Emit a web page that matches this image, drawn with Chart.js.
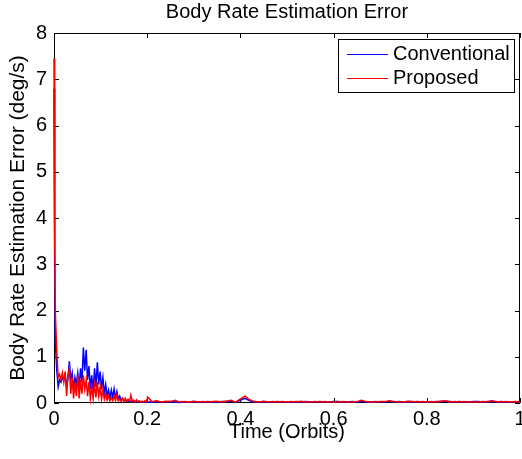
<!DOCTYPE html>
<html>
<head>
<meta charset="utf-8">
<script src="https://cdn.jsdelivr.net/npm/chart.js@4/dist/chart.umd.min.js"></script>
<style>
  html, body { margin: 0; padding: 0; background: #fff; }
  canvas { display: block; }
</style>
</head>
<body>
<canvas id="rateChart" width="522" height="459"></canvas>
<script>
// time axis in orbits, dense at the start where the transient is
const time = [
  0, 0.0015, 0.003, 0.006, 0.009, 0.012, 0.015, 0.018, 0.021, 0.024,
  0.027, 0.030, 0.033, 0.036, 0.039, 0.042, 0.045, 0.048, 0.051, 0.054,
  0.057, 0.060, 0.063, 0.066, 0.069, 0.072, 0.075, 0.078, 0.081, 0.084,
  0.087, 0.090, 0.093, 0.096, 0.099, 0.102, 0.105, 0.108, 0.111, 0.114,
  0.117, 0.120, 0.123, 0.126, 0.129, 0.132, 0.135, 0.138, 0.141, 0.144,
  0.147, 0.150, 0.153, 0.156, 0.159, 0.162, 0.165, 0.168, 0.171, 0.174,
  0.177, 0.180, 0.183, 0.186, 0.189, 0.192, 0.195, 0.198, 0.201,
  0.21, 0.22, 0.23, 0.24, 0.25, 0.26, 0.27, 0.28, 0.29, 0.30,
  0.31, 0.32, 0.33, 0.34, 0.35, 0.36, 0.37, 0.38, 0.39, 0.40,
  0.41, 0.42, 0.43, 0.44, 0.45, 0.46, 0.47, 0.48, 0.49, 0.50,
  0.51, 0.52, 0.53, 0.54, 0.55, 0.56, 0.57, 0.58, 0.59, 0.60,
  0.61, 0.62, 0.63, 0.64, 0.65, 0.66, 0.67, 0.68, 0.69, 0.70,
  0.71, 0.72, 0.73, 0.74, 0.75, 0.76, 0.77, 0.78, 0.79, 0.80,
  0.81, 0.82, 0.83, 0.84, 0.85, 0.86, 0.87, 0.88, 0.89, 0.90,
  0.91, 0.92, 0.93, 0.94, 0.95, 0.96, 0.97, 0.98, 0.99, 1.00
];

// deg/s
const conventional = [
  6.8, 2.9, 1.3, 0.7, 0.35, 0.5, 0.45, 0.55, 0.5, 0.6,
  0.35, 0.55, 0.9, 0.5, 0.65, 0.3, 0.55, 0.4, 0.65, 0.35,
  0.75, 0.45, 1.2, 0.7, 1.15, 0.5, 0.8, 0.3, 0.6, 0.25,
  0.75, 0.35, 0.88, 0.4, 0.68, 0.3, 0.55, 0.2, 0.4, 0.15,
  0.28, 0.1, 0.28, 0.12, 0.3, 0.1, 0.25, 0.08, 0.15, 0.05,
  0.1, 0.04, 0.06, 0.03, 0.05, 0.03, 0.04, 0.02, 0.04, 0.02,
  0.03, 0.02, 0.03, 0.02, 0.03, 0.02, 0.02, 0.01, 0.02,
  0.02, 0.03, 0.02, 0.02, 0.03, 0.02, 0.01, 0.02, 0.02, 0.03,
  0.02, 0.02, 0.03, 0.02, 0.02, 0.03, 0.03, 0.04, 0.02, 0.06,
  0.1, 0.05, 0.02, 0.02, 0.03, 0.02, 0.02, 0.03, 0.02, 0.02,
  0.02, 0.03, 0.02, 0.03, 0.02, 0.02, 0.03, 0.02, 0.02, 0.03,
  0.03, 0.02, 0.02, 0.03, 0.02, 0.04, 0.02, 0.02, 0.03, 0.02,
  0.02, 0.04, 0.02, 0.03, 0.02, 0.03, 0.02, 0.03, 0.02, 0.02,
  0.02, 0.03, 0.03, 0.04, 0.03, 0.02, 0.03, 0.02, 0.02, 0.03,
  0.03, 0.02, 0.03, 0.04, 0.02, 0.03, 0.02, 0.02, 0.02, 0.03
];

const proposed = [
  7.45, 3.6, 1.9, 1.1, 0.55, 0.62, 0.5, 0.65, 0.45, 0.68,
  0.15, 0.6, 0.75, 0.2, 0.55, 0.1, 0.45, 0.15, 0.6, 0.1,
  0.5, 0.2, 0.6, 0.3, 0.5, 0.15, 0.45, 0.1, 0.35, 0.1,
  0.4, 0.12, 0.45, 0.15, 0.35, 0.08, 0.3, 0.08, 0.2, 0.06,
  0.15, 0.05, 0.12, 0.05, 0.15, 0.05, 0.18, 0.05, 0.08, 0.04,
  0.1, 0.03, 0.1, 0.04, 0.08, 0.03, 0.17, 0.03, 0.06, 0.02,
  0.07, 0.03, 0.05, 0.02, 0.04, 0.02, 0.05, 0.02, 0.13,
  0.03, 0.05, 0.02, 0.04, 0.03, 0.06, 0.02, 0.03, 0.02, 0.04,
  0.02, 0.03, 0.02, 0.03, 0.04, 0.02, 0.04, 0.06, 0.02, 0.09,
  0.15, 0.07, 0.03, 0.02, 0.04, 0.02, 0.03, 0.02, 0.03, 0.02,
  0.03, 0.02, 0.04, 0.02, 0.02, 0.03, 0.02, 0.03, 0.02, 0.02,
  0.02, 0.03, 0.02, 0.02, 0.03, 0.06, 0.03, 0.02, 0.02, 0.03,
  0.03, 0.05, 0.03, 0.02, 0.02, 0.04, 0.03, 0.02, 0.03, 0.02,
  0.03, 0.02, 0.04, 0.05, 0.02, 0.03, 0.02, 0.03, 0.02, 0.02,
  0.02, 0.03, 0.02, 0.05, 0.03, 0.02, 0.03, 0.02, 0.03, 0.02
];

const FONT = 'Liberation Sans, Arial, Helvetica, sans-serif';

// MATLAB style box: frame and inward ticks under the data, framed legend on top
const matlabBox = {
  id: 'matlabBox',
  beforeDatasetsDraw(chart) {
    const { ctx, chartArea: a, scales: { x, y } } = chart;
    const tick = 5;
    ctx.save();
    ctx.strokeStyle = '#000';
    ctx.lineWidth = 1;
    ctx.beginPath();
    x.ticks.forEach(t => {
      const px = Math.round(x.getPixelForValue(t.value)) + 0.5;
      ctx.moveTo(px, a.bottom); ctx.lineTo(px, a.bottom - tick);
      ctx.moveTo(px, a.top); ctx.lineTo(px, a.top + tick);
    });
    y.ticks.forEach(t => {
      const py = Math.round(y.getPixelForValue(t.value)) + 0.5;
      ctx.moveTo(a.left, py); ctx.lineTo(a.left + tick, py);
      ctx.moveTo(a.right, py); ctx.lineTo(a.right - tick, py);
    });
    ctx.stroke();
    ctx.strokeRect(Math.round(a.left) + 0.5, Math.round(a.top) + 0.5,
      Math.round(a.right - a.left) - 1, Math.round(a.bottom - a.top) - 1);
    ctx.restore();
  },
  afterDatasetsDraw(chart) {
    const { ctx, chartArea: a } = chart;
    ctx.save();
    const bx = a.right - 182, by = a.top + 6, bw = 176, bh = 53;
    ctx.fillStyle = '#fff';
    ctx.fillRect(bx, by, bw, bh);
    ctx.strokeStyle = '#000';
    ctx.lineWidth = 1;
    ctx.strokeRect(bx + 0.5, by + 0.5, bw, bh);
    ctx.font = '20px ' + FONT;
    ctx.textBaseline = 'middle';
    ctx.textAlign = 'left';
    chart.data.datasets.forEach((ds, i) => {
      const ry = by + 15.5 + i * 24;
      ctx.strokeStyle = ds.borderColor;
      ctx.lineWidth = 1.2;
      ctx.beginPath();
      ctx.moveTo(bx + 9, ry); ctx.lineTo(bx + 50, ry);
      ctx.stroke();
      ctx.fillStyle = '#000';
      ctx.fillText(ds.label, bx + 55, ry);
    });
    ctx.restore();
  }
};

const toPoints = vals => vals.map((v, i) => ({ x: time[i], y: v }));

new Chart(document.getElementById('rateChart'), {
  type: 'line',
  data: {
    datasets: [
      {
        label: 'Conventional',
        data: toPoints(conventional),
        borderColor: '#0000ff',
        borderWidth: 1.5,
        pointRadius: 0,
        fill: false,
        clip: false,
        order: 1
      },
      {
        label: 'Proposed',
        data: toPoints(proposed),
        borderColor: '#ff0000',
        borderWidth: 1.5,
        pointRadius: 0,
        fill: false,
        clip: false,
        order: 0
      }
    ]
  },
  options: {
    responsive: false,
    animation: false,
    layout: { padding: { left: 0, right: 2, top: 0, bottom: 0 } },
    plugins: {
      legend: { display: false },
      tooltip: { enabled: false },
      title: {
        display: true,
        text: 'Body Rate Estimation Error',
        color: '#000',
        font: { family: FONT, size: 20, weight: 'normal' },
        padding: { top: 0, bottom: 9 },
        fullSize: false
      }
    },
    scales: {
      x: {
        type: 'linear',
        min: 0,
        max: 1,
        grid: { display: false, drawTicks: false },
        border: { display: false },
        ticks: {
          stepSize: 0.2,
          padding: 4.5,
          maxRotation: 0,
          autoSkip: false,
          color: '#000',
          font: { family: FONT, size: 20 },
          callback: v => String(Number(v.toFixed(1)))
        },
        title: {
          display: true,
          text: 'Time (Orbits)',
          color: '#000',
          font: { family: FONT, size: 20 },
          padding: { top: 0, bottom: 14.5 }
        },
        afterFit: s => { s.height = 56; s.paddingLeft = 0; s.paddingRight = 0; }
      },
      y: {
        min: 0,
        max: 8,
        grid: { display: false, drawTicks: false },
        border: { display: false },
        ticks: {
          stepSize: 1,
          padding: 7,
          color: '#000',
          font: { family: FONT, size: 20 }
        },
        title: {
          display: true,
          text: 'Body Rate Estimation Error (deg/s)',
          color: '#000',
          font: { family: FONT, size: 21 },
          padding: { top: 5.5, bottom: 0 }
        },
        afterFit: s => { s.width = 54; s.paddingTop = 0; s.paddingBottom = 0; }
      }
    }
  },
  plugins: [matlabBox]
});
</script>
</body>
</html>
